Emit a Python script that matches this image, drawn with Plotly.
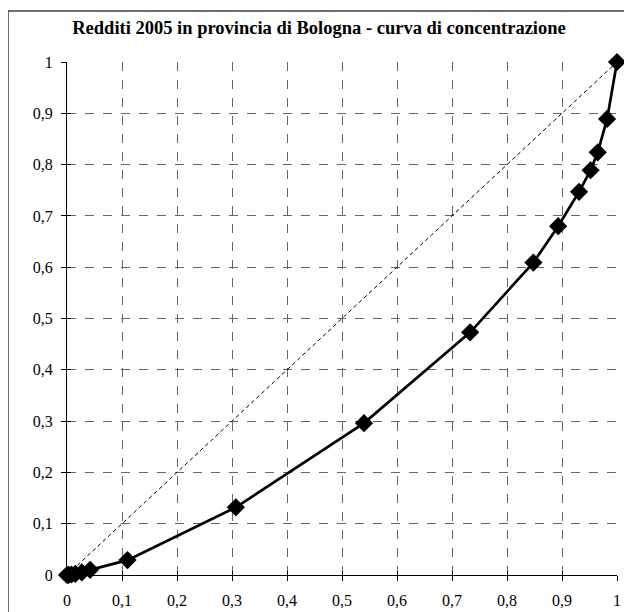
import plotly.graph_objects as go

# Lorenz curve data (cumulative share of taxpayers vs cumulative share of income)
pop_share = [0, 0.003, 0.008, 0.015, 0.027, 0.042, 0.110, 0.307, 0.540, 0.733,
             0.848, 0.893, 0.931, 0.952, 0.965, 0.982, 1.0]
income_share = [0, 0.0002, 0.001, 0.002, 0.005, 0.010, 0.029, 0.132, 0.296, 0.473,
                0.609, 0.680, 0.747, 0.789, 0.824, 0.889, 1.0]
equality_x = [0, 1]
equality_y = [0, 1]
tick_vals = [0, 0.1, 0.2, 0.3, 0.4, 0.5, 0.6, 0.7, 0.8, 0.9, 1]
tick_text = ["0", "0,1", "0,2", "0,3", "0,4", "0,5", "0,6", "0,7", "0,8", "0,9", "1"]
title_text = "Redditi 2005 in provincia di Bologna - curva di concentrazione"

FONT = "Liberation Serif, Times New Roman, serif"

# page has an 8px body margin; work in page pixels and convert
OFF = 8
W, H = 624, 604
PL, PR, PT, PB = 67, 617, 62, 575   # plot area in page pixels
L, T = PL - OFF, PT - OFF
R, B = (W + OFF) - PR, (H + OFF) - PB
pw, ph = PR - PL, PB - PT

fig = go.Figure()
fig.add_trace(go.Scatter(x=equality_x, y=equality_y, mode="lines",
                         line=dict(color="black", width=1, dash="4px,3px"),
                         hoverinfo="skip", showlegend=False, cliponaxis=False))
fig.add_trace(go.Scatter(x=pop_share, y=income_share, mode="lines+markers",
                         line=dict(color="black", width=2.7),
                         marker=dict(symbol="diamond", size=14, color="black"),
                         showlegend=False, cliponaxis=False))
# invisible trace to carry the overlay axes used for inner tick marks
fig.add_trace(go.Scatter(x=equality_x, y=equality_y, xaxis="x2", yaxis="y2",
                         mode="lines", line=dict(width=0), opacity=0,
                         hoverinfo="skip", showlegend=False))

axis_common = dict(range=[0, 1], tickvals=tick_vals, ticktext=tick_text,
                   showgrid=True, gridcolor="#666666", gridwidth=1, griddash="dash",
                   showline=True, linecolor="black", linewidth=1,
                   ticks="outside", ticklen=5, tickcolor="black", automargin=False,
                   zeroline=False, tickfont=dict(family=FONT, size=16, color="black"))
inner_common = dict(range=[0, 1], tickvals=tick_vals, showticklabels=False,
                    showgrid=False, zeroline=False, showline=False,
                    ticks="inside", ticklen=4, tickcolor="black", automargin=False)

fig.update_layout(
    width=W, height=H,
    margin=dict(l=L, r=R, t=T, b=B, autoexpand=False),
    paper_bgcolor="white", plot_bgcolor="white",
    xaxis=dict(**axis_common, ticklabelstandoff=6),
    yaxis=dict(**axis_common, ticklabelstandoff=5),
    xaxis2=dict(**inner_common, overlaying="x", side="bottom", anchor="y2"),
    yaxis2=dict(**inner_common, overlaying="y", side="left", anchor="x2"),
    title=dict(text="<b>" + title_text + "</b>", x=(319 - PL) / pw, xref="paper",
               xanchor="center", y=1 - (28 - OFF) / H, yanchor="middle",
               font=dict(family=FONT, size=18.5, color="black")),
    shapes=[dict(type="rect", xref="paper", yref="paper",
                 x0=(8 - PL) / pw, x1=(645 - PL) / pw,
                 y0=-(625 - PB) / ph, y1=1 + (PT - 11) / ph,
                 line=dict(color="#404040", width=1.5), layer="below")],
)

fig.write_html("out.html")
